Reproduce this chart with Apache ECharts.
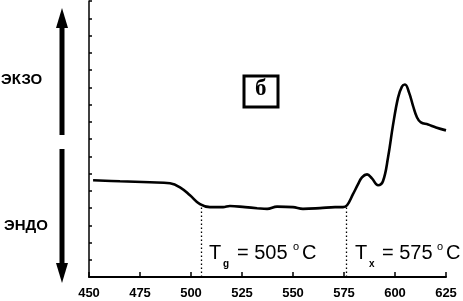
<!DOCTYPE html>
<html><head><meta charset="utf-8">
<script src="https://cdn.jsdelivr.net/npm/echarts@6/dist/echarts.min.js"></script>
<style>html,body{margin:0;padding:0;background:#fff}#c{width:463px;height:301px}</style>
</head><body><div id="c"></div>
<script>
// Temperature (°C) and DTA signal (arbitrary units)
const temperature = [452,465.2,479.9,489.7,494.6,499.5,504.4,509.3,515.7,519.1,526.5,532.4,537.3,542.2,550,554.9,563.2,570.6,574.5,576.5,579.4,581.9,583.8,586.3,588.7,591.7,594.1,596.6,599,601.5,603.4,604.9,606.9,608.8,610.8,612.7,616.2,620.1,625];
const signal = [5.61,5.55,5.49,5.43,5.2,4.74,4.22,4.05,4.05,4.12,4.05,3.99,3.95,4.08,4.05,3.95,3.99,4.05,4.05,4.16,4.8,5.38,5.78,5.95,5.72,5.32,5.55,6.94,8.79,10.4,11.04,11.16,10.69,9.94,9.25,8.96,8.84,8.67,8.5];
const xTicks = [450,475,500,525,550,575,600,625];
const markTemps = [505, 576];
const markLevels = [4.2, 4.15];

const chart = echarts.init(document.getElementById('c'));
const data = temperature.map((t,i)=>[t, signal[i]]);
const F = '"Liberation Sans", Arial, sans-serif';
chart.setOption({
  animation:false,
  grid:{left:89, right:17, top:1, bottom:24},
  xAxis:{type:'value', min:450, max:625, interval:25,
    axisLine:{lineStyle:{color:'#000', width:2}},
    axisTick:{inside:true, length:5, lineStyle:{color:'#000', width:1.5}},
    axisLabel:{color:'#000', fontWeight:'bold', fontSize:13, fontFamily:F, margin:10,
      formatter:v=> xTicks.includes(v)? String(v):''},
    splitLine:{show:false}},
  yAxis:{type:'value', min:0, max:16, interval:1,
    axisLine:{show:true, lineStyle:{color:'#000', width:1.5}},
    axisTick:{show:true, inside:true, length:3, lineStyle:{color:'#000', width:1.5}},
    axisLabel:{show:false}, splitLine:{show:false}},
  series:[{type:'line', data:data, smooth:0.4, symbol:'none',
    lineStyle:{color:'#000', width:2.6},
    markLine:{silent:true, symbol:'none', label:{show:false},
      lineStyle:{color:'#000', type:[1.5,2.5], width:1.3},
      data: markTemps.map((t,i)=>[{coord:[t,0]},{coord:[t,markLevels[i]]}])}
  }],
  graphic:[
    // left arrows
    {type:'line', shape:{x1:62,y1:22,x2:62,y2:135}, style:{stroke:'#000', lineWidth:5}},
    {type:'polygon', shape:{points:[[56,28],[62,8],[68,28]]}, style:{fill:'#000'}},
    {type:'line', shape:{x1:62,y1:149,x2:62,y2:268}, style:{stroke:'#000', lineWidth:5}},
    {type:'polygon', shape:{points:[[56,263],[62,283],[68,263]]}, style:{fill:'#000'}},
    {type:'text', left:1, top:72, style:{text:'ЭКЗО', font:'bold 15px '+F, fill:'#000'}},
    {type:'text', left:4, top:218, style:{text:'ЭНДО', font:'bold 15px '+F, fill:'#000'}},
    // panel label box
    {type:'rect', shape:{x:244,y:76,width:34,height:31}, style:{fill:'#fff', stroke:'#000', lineWidth:3}},
    {type:'text', left:255, top:78, style:{text:'б', font:'bold 23px "Liberation Serif", "DejaVu Serif", serif', fill:'#000'}},
    // Tg annotation
    {type:'text', left:209, top:243, style:{text:'T', font:'20px '+F, fill:'#000'}},
    {type:'text', left:223, top:259, style:{text:'g', font:'bold 10px '+F, fill:'#000'}},
    {type:'text', left:237, top:243, style:{text:'= 505', font:'20px '+F, fill:'#000'}},
    {type:'text', left:293, top:241, style:{text:'o', font:'11px '+F, fill:'#000'}},
    {type:'text', left:302, top:243, style:{text:'C', font:'20px '+F, fill:'#000'}},
    // Tx annotation
    {type:'text', left:355, top:243, style:{text:'T', font:'20px '+F, fill:'#000'}},
    {type:'text', left:369, top:259, style:{text:'x', font:'bold 10px '+F, fill:'#000'}},
    {type:'text', left:382, top:243, style:{text:'= 575', font:'20px '+F, fill:'#000'}},
    {type:'text', left:437, top:241, style:{text:'o', font:'11px '+F, fill:'#000'}},
    {type:'text', left:446, top:243, style:{text:'C', font:'20px '+F, fill:'#000'}}
  ]
});
</script></body></html>
